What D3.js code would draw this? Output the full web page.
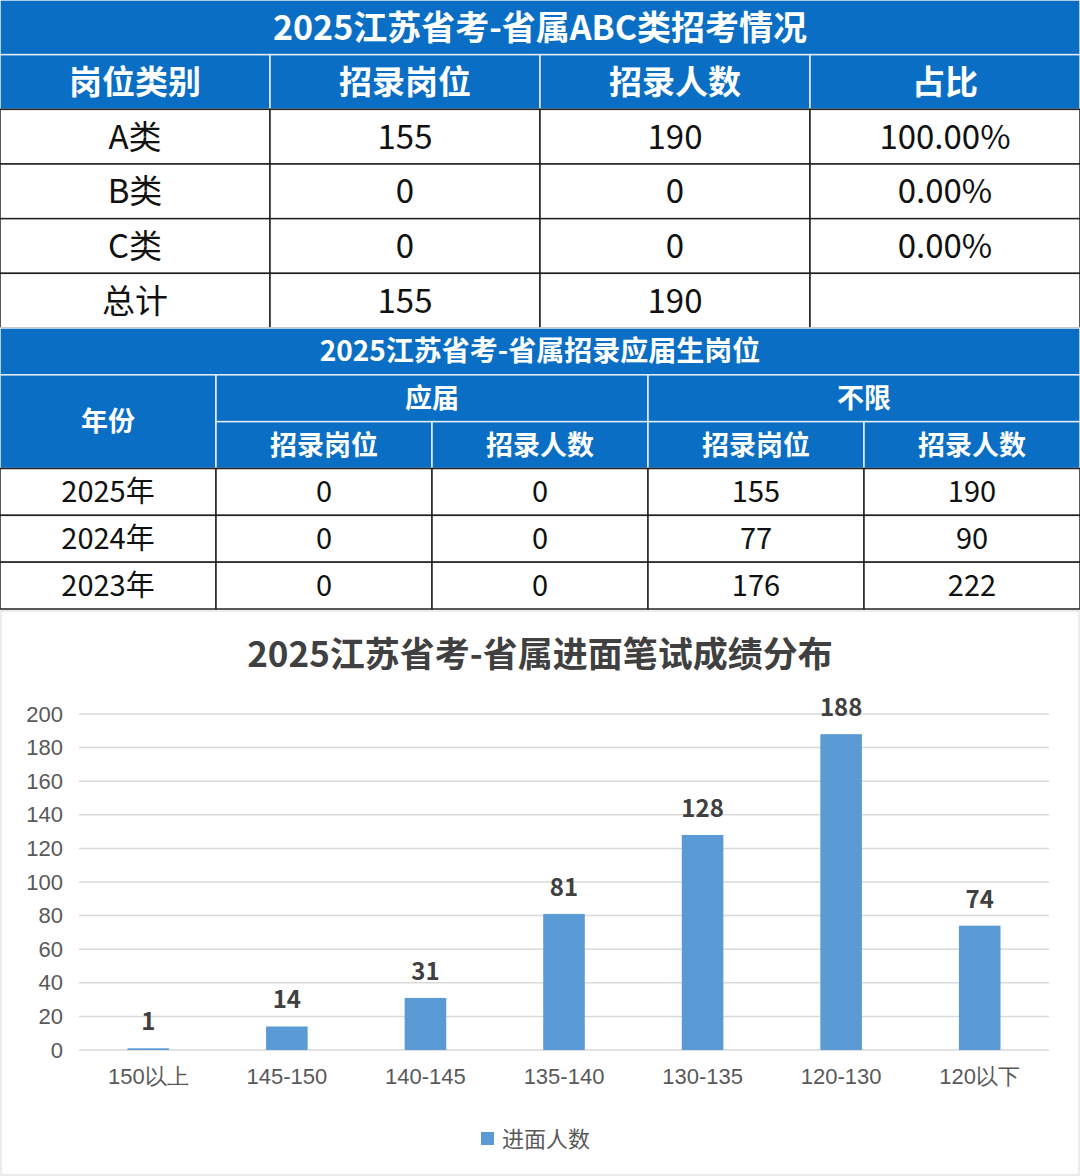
<!DOCTYPE html>
<html><head><meta charset="utf-8">
<script src="https://cdn.jsdelivr.net/npm/d3@7.9.0/dist/d3.min.js"></script>
<style>body{margin:0;background:#fff}svg{display:block;font-family:"Noto Sans CJK SC","Noto Sans",sans-serif}</style>
</head><body><svg id="c" width="1080" height="1176"></svg>
<script>
// --- DATA ---
const t1Title = '2025江苏省考-省属ABC类招考情况';
const t1Head = ['岗位类别', '招录岗位', '招录人数', '占比'];
const t1Rows = [
  ['A类', '155', '190', '100.00%'],
  ['B类', '0', '0', '0.00%'],
  ['C类', '0', '0', '0.00%'],
  ['总计', '155', '190', '']
];
const t2Title = '2025江苏省考-省属招录应届生岗位';
const t2Groups = ['应届', '不限'];
const t2Sub = ['招录岗位', '招录人数', '招录岗位', '招录人数'];
const t2Rows = [
  ['2025年', '0', '0', '155', '190'],
  ['2024年', '0', '0', '77', '90'],
  ['2023年', '0', '0', '176', '222']
];
const chartTitle = '2025江苏省考-省属进面笔试成绩分布';
const categories = ['150以上', '145-150', '140-145', '135-140', '130-135', '120-130', '120以下'];
const counts = [1, 14, 31, 81, 128, 188, 74];
const legendLabel = '进面人数';

const BLUE = '#0a6fc4', LINE = '#222';
const svg = d3.select('#c');

function cell(x, y, w, h, txt, head, size) {
  svg.append('rect').attr('x', x).attr('y', y).attr('width', w).attr('height', h)
    .attr('fill', head ? BLUE : '#fff').attr('stroke', head ? '#e8eef5' : LINE).attr('stroke-width', 1.5);
  svg.append('text').attr('x', x + w / 2).attr('y', y + h / 2).attr('dy', '0.36em')
    .attr('text-anchor', 'middle').attr('font-size', size)
    .attr('font-weight', head ? 'bold' : 'normal').attr('fill', head ? '#fff' : '#111').text(txt);
}

// --- TABLE 1 ---
const c1 = d3.scaleBand().domain(d3.range(4)).range([0, 1080]);
const r1 = d3.scaleBand().domain(d3.range(6)).range([0, 328]);
cell(0, 0, 1080, r1.bandwidth(), t1Title, true, 34);
t1Head.forEach((h, i) => cell(c1(i), r1(1), c1.bandwidth(), r1.bandwidth(), h, true, 33));
t1Rows.forEach((row, j) => row.forEach((v, i) => cell(c1(i), r1(j + 2), c1.bandwidth(), r1.bandwidth(), v, false, 33)));

// --- TABLE 2 ---
const c2 = d3.scaleBand().domain(d3.range(5)).range([0, 1080]);
const r2 = d3.scaleBand().domain(d3.range(6)).range([328, 609]);
const rh = r2.bandwidth(), cw = c2.bandwidth();
cell(0, r2(0), 1080, rh, t2Title, true, 28);
cell(0, r2(1), cw, rh * 2, '年份', true, 27);
t2Groups.forEach((g, i) => cell(c2(1 + i * 2), r2(1), cw * 2, rh, g, true, 27));
t2Sub.forEach((s, i) => cell(c2(i + 1), r2(2), cw, rh, s, true, 27));
t2Rows.forEach((row, j) => row.forEach((v, i) => cell(c2(i), r2(j + 3), cw, rh, v, false, 29)));

// --- BAR CHART ---
svg.append('rect').attr('x', 1).attr('y', 611).attr('width', 1078).attr('height', 564)
  .attr('fill', '#fff').attr('stroke', '#d9d9d9');
svg.append('text').attr('x', 540).attr('y', 667).attr('text-anchor', 'middle')
  .attr('font-size', 35).attr('font-weight', 'bold').attr('fill', '#404040').text(chartTitle);

const x = d3.scaleBand().domain(categories).range([79, 1049]).paddingInner(0.7).paddingOuter(0.35);
const y = d3.scaleLinear().domain([0, 200]).range([1050, 714]);

svg.append('g').selectAll('line').data(y.ticks(10)).join('line')
  .attr('x1', 79).attr('x2', 1049).attr('y1', d => y(d)).attr('y2', d => y(d))
  .attr('stroke', '#d9d9d9').attr('stroke-width', 1.5);

const ya = svg.append('g').attr('transform', 'translate(63,0)')
  .call(d3.axisLeft(y).ticks(10).tickSize(0).tickPadding(0));
ya.select('.domain').remove();
ya.selectAll('text').attr('font-size', 22).attr('fill', '#595959').attr('font-family', 'inherit');

const xa = svg.append('g').attr('transform', 'translate(0,1050)')
  .call(d3.axisBottom(x).tickSize(0).tickPadding(18));
xa.select('.domain').remove();
xa.selectAll('text').attr('font-size', 22).attr('fill', '#595959').attr('font-family', 'inherit');

svg.append('g').selectAll('rect').data(counts).join('rect')
  .attr('x', (d, i) => x(categories[i])).attr('width', x.bandwidth())
  .attr('y', d => y(d)).attr('height', d => y(0) - y(d)).attr('fill', '#5b9bd5');

svg.append('g').selectAll('text').data(counts).join('text')
  .attr('x', (d, i) => x(categories[i]) + x.bandwidth() / 2).attr('y', d => y(d) - 18)
  .attr('text-anchor', 'middle').attr('font-size', 24).attr('font-weight', 'bold')
  .attr('fill', '#404040').text(d => d);

svg.append('rect').attr('x', 481).attr('y', 1132).attr('width', 13).attr('height', 13).attr('fill', '#5b9bd5');
svg.append('text').attr('x', 502).attr('y', 1139).attr('dy', '0.36em').attr('font-size', 22)
  .attr('fill', '#595959').text(legendLabel);
</script></body></html>
